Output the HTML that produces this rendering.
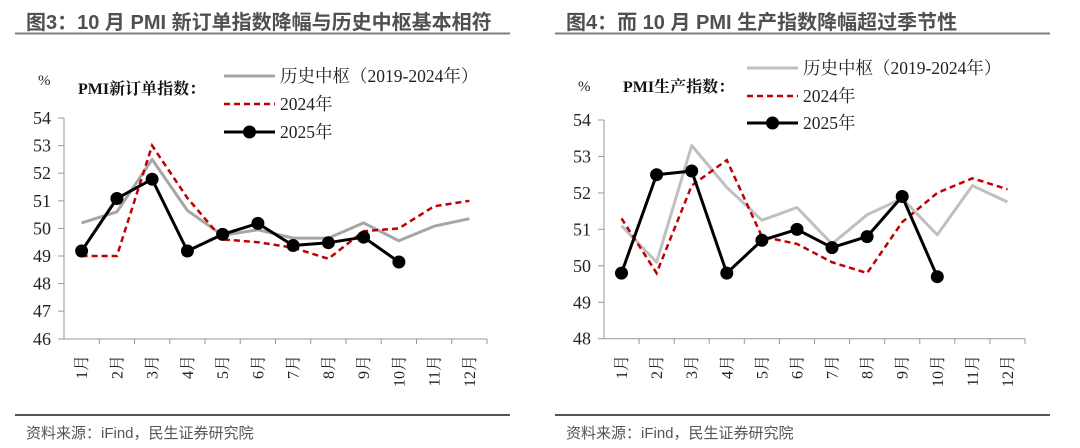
<!DOCTYPE html>
<html><head><meta charset="utf-8"><style>
html,body{margin:0;padding:0;background:#fff;}
svg{display:block;}
.t{font-family:"Liberation Sans","Noto Sans CJK SC",sans-serif;font-weight:bold;font-size:20px;fill:#505050;}
.s{font-family:"Liberation Serif","Noto Serif CJK SC",serif;}
.src{font-family:"Liberation Sans","Noto Sans CJK SC",sans-serif;font-size:15px;fill:#555;}
</style></head><body>
<svg width="1080" height="448" viewBox="0 0 1080 448" xmlns="http://www.w3.org/2000/svg">
<!-- LEFT -->
<text class="t" x="26" y="29">图3：10 月 PMI 新订单指数降幅与历史中枢基本相符</text>
<line x1="15" y1="33.5" x2="510" y2="33.5" stroke="#7f7f7f" stroke-width="2"/>
<line x1="15" y1="415" x2="510" y2="415" stroke="#555" stroke-width="2"/>
<text class="src" x="26" y="438">资料来源：iFind，民生证券研究院</text>

<text class="s" x="38" y="85" font-size="15" fill="#222">%</text>
<text class="s" x="78" y="94" font-size="16" font-weight="bold" fill="#111">PMI新订单指数：</text>
<line x1="224" y1="76" x2="275" y2="76" stroke="#a6a6a6" stroke-width="3"/>
<text class="s" x="280" y="82" font-size="17.5" fill="#222">历史中枢（2019-2024年）</text>
<line x1="224" y1="104" x2="275" y2="104" stroke="#c00000" stroke-width="2.5" stroke-dasharray="6,4"/>
<text class="s" x="280" y="110" font-size="17.5" fill="#222">2024年</text>
<line x1="224" y1="132" x2="275" y2="132" stroke="#000" stroke-width="3"/>
<circle cx="249.5" cy="132" r="6.5" fill="#000"/>
<text class="s" x="280" y="138" font-size="17.5" fill="#222">2025年</text>

<g stroke="#999" stroke-width="1" fill="none">
<line x1="64" y1="118" x2="64" y2="339"/>
<line x1="64" y1="339" x2="487" y2="339"/>
<line x1="58" y1="118" x2="64" y2="118"/><line x1="58" y1="145.6" x2="64" y2="145.6"/><line x1="58" y1="173.2" x2="64" y2="173.2"/><line x1="58" y1="200.8" x2="64" y2="200.8"/><line x1="58" y1="228.4" x2="64" y2="228.4"/><line x1="58" y1="256" x2="64" y2="256"/><line x1="58" y1="283.6" x2="64" y2="283.6"/><line x1="58" y1="311.2" x2="64" y2="311.2"/><line x1="58" y1="339" x2="64" y2="339"/>
<line x1="99.25" y1="339" x2="99.25" y2="344"/><line x1="134.5" y1="339" x2="134.5" y2="344"/><line x1="169.75" y1="339" x2="169.75" y2="344"/><line x1="205" y1="339" x2="205" y2="344"/><line x1="240.25" y1="339" x2="240.25" y2="344"/><line x1="275.5" y1="339" x2="275.5" y2="344"/><line x1="310.75" y1="339" x2="310.75" y2="344"/><line x1="346" y1="339" x2="346" y2="344"/><line x1="381.25" y1="339" x2="381.25" y2="344"/><line x1="416.5" y1="339" x2="416.5" y2="344"/><line x1="451.75" y1="339" x2="451.75" y2="344"/><line x1="487" y1="339" x2="487" y2="344"/>
</g>
<g class="s" font-size="18" fill="#222" text-anchor="end">
<text x="51" y="124">54</text><text x="51" y="151.6">53</text><text x="51" y="179.2">52</text><text x="51" y="206.8">51</text><text x="51" y="234.4">50</text><text x="51" y="262">49</text><text x="51" y="289.6">48</text><text x="51" y="317.2">47</text><text x="51" y="345">46</text>
</g>
<g class="s" font-size="16" fill="#222" text-anchor="end">
<text transform="translate(87,355) rotate(-90)">1月</text>
<text transform="translate(122.3,355) rotate(-90)">2月</text>
<text transform="translate(157.5,355) rotate(-90)">3月</text>
<text transform="translate(192.8,355) rotate(-90)">4月</text>
<text transform="translate(228,355) rotate(-90)">5月</text>
<text transform="translate(263.3,355) rotate(-90)">6月</text>
<text transform="translate(298.5,355) rotate(-90)">7月</text>
<text transform="translate(333.8,355) rotate(-90)">8月</text>
<text transform="translate(369,355) rotate(-90)">9月</text>
<text transform="translate(404.3,355) rotate(-90)">10月</text>
<text transform="translate(439.5,355) rotate(-90)">11月</text>
<text transform="translate(474.8,355) rotate(-90)">12月</text>
</g>
<polyline fill="none" stroke="#a6a6a6" stroke-width="3" stroke-linejoin="round" points="81.6,222.9 116.9,211.8 152.1,159.4 187.4,210.5 222.6,235.3 257.9,229.8 293.1,238.1 328.4,238.1 363.6,222.9 398.9,240.8 434.1,226.2 469.4,218.7"/>
<polyline fill="none" stroke="#c00000" stroke-width="2.5" stroke-dasharray="6,4" points="81.6,256 116.9,256 152.1,145.6 187.4,198 222.6,239.4 257.9,242.2 293.1,247.7 328.4,258.8 363.6,231.2 398.9,228.4 434.1,206.3 469.4,200.8"/>
<polyline fill="none" stroke="#000" stroke-width="3" stroke-linejoin="round" points="81.6,251 116.9,198.5 152.1,179.2 187.4,251 222.6,234.4 257.9,223.4 293.1,245.5 328.4,242.7 363.6,237.2 398.9,262"/>
<g fill="#000">
<circle cx="81.6" cy="251" r="6.5"/><circle cx="116.9" cy="198.5" r="6.5"/><circle cx="152.1" cy="179.2" r="6.5"/><circle cx="187.4" cy="251" r="6.5"/><circle cx="222.6" cy="234.4" r="6.5"/><circle cx="257.9" cy="223.4" r="6.5"/><circle cx="293.1" cy="245.5" r="6.5"/><circle cx="328.4" cy="242.7" r="6.5"/><circle cx="363.6" cy="237.2" r="6.5"/><circle cx="398.9" cy="262" r="6.5"/>
</g>

<!-- RIGHT -->
<text class="t" x="566" y="29">图4：而 10 月 PMI 生产指数降幅超过季节性</text>
<line x1="555" y1="33.5" x2="1050" y2="33.5" stroke="#7f7f7f" stroke-width="2"/>
<line x1="555" y1="415" x2="1050" y2="415" stroke="#555" stroke-width="2"/>
<text class="src" x="566" y="438">资料来源：iFind，民生证券研究院</text>

<text class="s" x="578" y="91" font-size="15" fill="#222">%</text>
<text class="s" x="623" y="92" font-size="16" font-weight="bold" fill="#111">PMI生产指数：</text>
<line x1="747" y1="68" x2="798" y2="68" stroke="#c0c0c0" stroke-width="3"/>
<text class="s" x="803" y="74" font-size="17.5" fill="#222">历史中枢（2019-2024年）</text>
<line x1="747" y1="96" x2="798" y2="96" stroke="#c00000" stroke-width="2.5" stroke-dasharray="6,4"/>
<text class="s" x="803" y="102" font-size="17.5" fill="#222">2024年</text>
<line x1="747" y1="123" x2="798" y2="123" stroke="#000" stroke-width="3"/>
<circle cx="772.5" cy="123" r="6.5" fill="#000"/>
<text class="s" x="803" y="129" font-size="17.5" fill="#222">2025年</text>

<g stroke="#999" stroke-width="1" fill="none">
<line x1="604" y1="120" x2="604" y2="338.7"/>
<line x1="604" y1="338.7" x2="1025" y2="338.7"/>
<line x1="598" y1="120" x2="604" y2="120"/><line x1="598" y1="156.45" x2="604" y2="156.45"/><line x1="598" y1="192.9" x2="604" y2="192.9"/><line x1="598" y1="229.35" x2="604" y2="229.35"/><line x1="598" y1="265.8" x2="604" y2="265.8"/><line x1="598" y1="302.25" x2="604" y2="302.25"/><line x1="598" y1="338.7" x2="604" y2="338.7"/>
<line x1="639.1" y1="338.7" x2="639.1" y2="344"/><line x1="674.2" y1="338.7" x2="674.2" y2="344"/><line x1="709.2" y1="338.7" x2="709.2" y2="344"/><line x1="744.3" y1="338.7" x2="744.3" y2="344"/><line x1="779.4" y1="338.7" x2="779.4" y2="344"/><line x1="814.5" y1="338.7" x2="814.5" y2="344"/><line x1="849.6" y1="338.7" x2="849.6" y2="344"/><line x1="884.7" y1="338.7" x2="884.7" y2="344"/><line x1="919.8" y1="338.7" x2="919.8" y2="344"/><line x1="954.8" y1="338.7" x2="954.8" y2="344"/><line x1="989.9" y1="338.7" x2="989.9" y2="344"/><line x1="1025" y1="338.7" x2="1025" y2="344"/>
</g>
<g class="s" font-size="18" fill="#222" text-anchor="end">
<text x="591" y="126">54</text><text x="591" y="162.45">53</text><text x="591" y="198.9">52</text><text x="591" y="235.35">51</text><text x="591" y="271.8">50</text><text x="591" y="308.25">49</text><text x="591" y="344.7">48</text>
</g>
<g class="s" font-size="16" fill="#222" text-anchor="end">
<text transform="translate(627,355) rotate(-90)">1月</text>
<text transform="translate(662.1,355) rotate(-90)">2月</text>
<text transform="translate(697.2,355) rotate(-90)">3月</text>
<text transform="translate(732.3,355) rotate(-90)">4月</text>
<text transform="translate(767.4,355) rotate(-90)">5月</text>
<text transform="translate(802.5,355) rotate(-90)">6月</text>
<text transform="translate(837.5,355) rotate(-90)">7月</text>
<text transform="translate(872.6,355) rotate(-90)">8月</text>
<text transform="translate(907.7,355) rotate(-90)">9月</text>
<text transform="translate(942.8,355) rotate(-90)">10月</text>
<text transform="translate(977.9,355) rotate(-90)">11月</text>
<text transform="translate(1013,355) rotate(-90)">12月</text>
</g>
<polyline fill="none" stroke="#c0c0c0" stroke-width="3" stroke-linejoin="round" points="621.5,225.7 656.6,262.2 691.7,145.5 726.8,187.4 761.9,220.2 797,207.5 832,243.9 867.1,214.8 902.2,198.4 937.3,234.8 972.4,185.6 1007.5,202"/>
<polyline fill="none" stroke="#c00000" stroke-width="2.5" stroke-dasharray="6,4" points="621.5,218.4 656.6,273.1 691.7,185.6 726.8,160.1 761.9,236.6 797,243.9 832,262.2 867.1,273.1 902.2,222.1 937.3,192.9 972.4,178.3 1007.5,189.3"/>
<polyline fill="none" stroke="#000" stroke-width="3" stroke-linejoin="round" points="621.5,273.1 656.6,174.7 691.7,171 726.8,273.1 761.9,240.3 797,229.4 832,247.6 867.1,236.6 902.2,196.5 937.3,276.7"/>
<g fill="#000">
<circle cx="621.5" cy="273.1" r="6.5"/><circle cx="656.6" cy="174.7" r="6.5"/><circle cx="691.7" cy="171" r="6.5"/><circle cx="726.8" cy="273.1" r="6.5"/><circle cx="761.9" cy="240.3" r="6.5"/><circle cx="797" cy="229.4" r="6.5"/><circle cx="832" cy="247.6" r="6.5"/><circle cx="867.1" cy="236.6" r="6.5"/><circle cx="902.2" cy="196.5" r="6.5"/><circle cx="937.3" cy="276.7" r="6.5"/>
</g>
</svg>
</body></html>
